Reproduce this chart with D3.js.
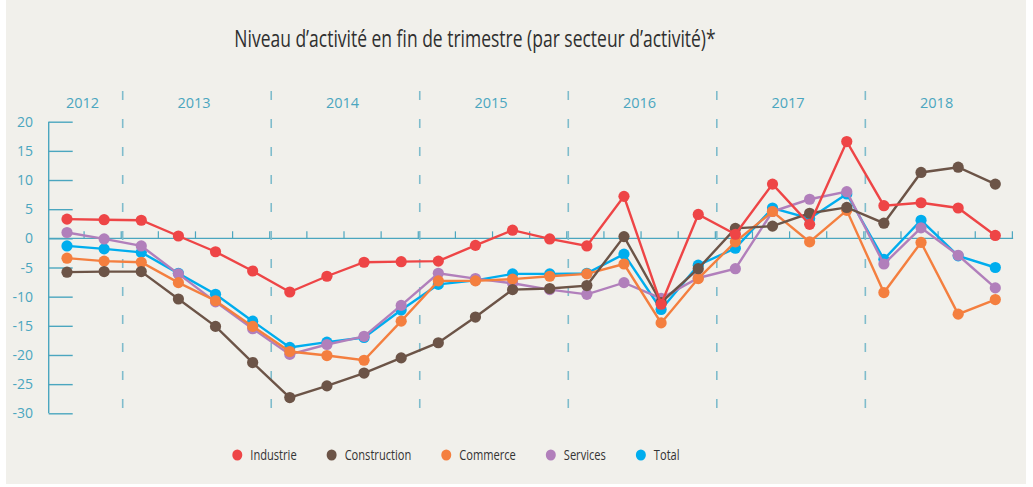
<!DOCTYPE html>
<html>
<head>
<meta charset="utf-8">
<script src="https://cdn.jsdelivr.net/npm/d3@7"></script>
<style>
  body { margin: 0; background: #fff; }
  svg { display: block; }
</style>
</head>
<body>
<div id="chart"></div>
<script>
// quarters shown (2012 T3 -> 2018 T4)
var years = ["2012", "2013", "2014", "2015", "2016", "2017", "2018"];
var periodYears = ["2012", "2012",
  "2013", "2013", "2013", "2013",
  "2014", "2014", "2014", "2014",
  "2015", "2015", "2015", "2015",
  "2016", "2016", "2016", "2016",
  "2017", "2017", "2017", "2017",
  "2018", "2018", "2018", "2018"];
var yTicks = [20, 15, 10, 5, 0, -5, -10, -15, -20, -25, -30];

var seriesNames = ["Industrie", "Construction", "Commerce", "Services", "Total"];
var industrie = [3.3, 3.2, 3.1, 0.4, -2.3, -5.6, -9.2, -6.5, -4.1, -4.0, -3.9, -1.2, 1.4, -0.1, -1.3, 7.2, -11.3, 4.1, 0.7, 9.3, 2.4, 16.6, 5.6, 6.1, 5.2, 0.5];
var construction = [-5.8, -5.7, -5.7, -10.4, -15.1, -21.3, -27.3, -25.3, -23.1, -20.5, -17.9, -13.5, -8.8, -8.6, -8.1, 0.3, -11.0, -5.2, 1.7, 2.1, 4.3, 5.3, 2.6, 11.3, 12.2, 9.3];
var commerce = [-3.4, -3.9, -4.1, -7.6, -10.7, -15.1, -19.4, -20.1, -20.9, -14.2, -7.3, -7.3, -7.0, -6.5, -6.1, -4.4, -14.5, -6.9, -0.6, 4.6, -0.6, 4.8, -9.3, -0.7, -13.0, -10.5];
var services = [1.0, -0.1, -1.3, -6.1, -10.9, -15.5, -19.9, -18.2, -16.8, -11.5, -6.0, -6.9, -7.7, -8.8, -9.6, -7.6, -10.3, -6.8, -5.2, 4.6, 6.7, 8.0, -4.4, 1.8, -2.9, -8.5];
var total = [-1.3, -1.8, -2.4, -6.0, -9.6, -14.2, -18.7, -17.8, -17.0, -12.3, -7.9, -7.2, -6.1, -6.1, -6.0, -2.7, -12.2, -4.6, -1.7, 5.2, 3.4, 7.6, -3.6, 3.1, -3.0, -5.0];
var seriesValues = [industrie, construction, commerce, services, total];
var colours = ["#ee4546", "#6c5447", "#f47f3f", "#b17fbb", "#00adee"];

function init(){
    var w = 1033, h = 487;
    var teal = "#4ba6bf";
    var narrow = 0.76; // squeeze factor, no condensed font installed
    var svg = d3.select("#chart").append("svg")
                .attr("width", w).attr("height", h);

    // panel background
    svg.append("rect").attr("x", 6).attr("y", 0).attr("width", 1020).attr("height", 484)
        .attr("fill", "#f1f0eb");

    var title = svg.append("text") //title
        .attr("x", 475).attr("y", 47)
        .attr("text-anchor", "middle")
        .style("font-family", "'Open Sans', sans-serif")
        .style("font-size", "23px")
        .style("fill", "#2f2f2f")
        .text("Niveau d\u2019activit\u00e9 en fin de trimestre (par secteur d\u2019activit\u00e9)*");
    title.attr("textLength", title.node().getComputedTextLength() * narrow)
         .attr("lengthAdjust", "spacingAndGlyphs");

    var x = d3.scalePoint()
              .domain(d3.range(periodYears.length))
              .range([67, 995.3]);
    var step = x.step();
    var y = d3.scaleLinear().domain([-30, 20]).range([413.3, 121.7]);

    // y axis: line + ticks pointing right
    var yAxis = d3.axisRight(y).tickValues(yTicks).tickSize(24).tickFormat("");
    var ga = svg.append("g").attr("transform", "translate(48.7,0)").call(yAxis);
    ga.selectAll("path, line").attr("stroke", teal).attr("stroke-width", 1.4);
    ga.select(".domain").attr("d", "M0," + y(20) + "V" + y(-30));

    svg.selectAll(".ylab")
        .data(yTicks).enter().append("text")
        .attr("x", 33).attr("y", function(d){ return y(d); })
        .attr("dy", "0.36em")
        .attr("text-anchor", "end")
        .style("font-family", "'Open Sans', sans-serif")
        .style("font-size", "14px")
        .style("fill", teal)
        .text(function(d){ return d; });

    // zero line with small quarter ticks
    svg.append("line")
        .attr("x1", 48.7).attr("x2", x(periodYears.length - 1) + step * 0.48)
        .attr("y1", y(0)).attr("y2", y(0))
        .attr("stroke", teal).attr("stroke-width", 1.4);
    svg.selectAll(".qtick")
        .data(d3.range(periodYears.length)).enter().append("line")
        .attr("x1", function(d){ return x(d) + step * 0.46; })
        .attr("x2", function(d){ return x(d) + step * 0.46; })
        .attr("y1", y(0)).attr("y2", y(0) - 7)
        .attr("stroke", teal).attr("stroke-width", 1.2);

    // year separators (dashed) and year labels
    var bounds = [];
    for (var i = 1; i < periodYears.length; i++) {
        if (periodYears[i] != periodYears[i-1]) bounds.push((x(i) + x(i-1)) / 2);
    }
    svg.selectAll(".sep")
        .data(bounds).enter().append("line")
        .attr("x1", function(d){ return d; }).attr("x2", function(d){ return d; })
        .attr("y1", 91).attr("y2", 410)
        .attr("stroke", "#7fbccc").attr("stroke-width", 1.6)
        .attr("stroke-dasharray", "9,19");

    svg.selectAll(".year")
        .data(years).enter().append("text")
        .attr("x", function(yr){
            var idx = d3.range(periodYears.length).filter(function(k){ return periodYears[k] == yr; });
            return d3.mean(idx, function(k){ return x(k); }) - 3;
        })
        .attr("y", 108)
        .attr("text-anchor", "middle")
        .style("font-family", "'Open Sans', sans-serif")
        .style("font-size", "14.5px")
        .style("fill", teal)
        .text(function(d){ return d; });

    var line = d3.line()
                 .x(function(d, i){ return x(i); })
                 .y(function(d){ return y(d); });

    // draw Total first, Industrie last (on top)
    for (var s = seriesNames.length - 1; s >= 0; s--) {
        var g = svg.append("g");
        g.append("path")
            .datum(seriesValues[s])
            .attr("d", line)
            .attr("fill", "none")
            .attr("stroke", colours[s])
            .attr("stroke-width", 2.4);
        g.selectAll("circle")
            .data(seriesValues[s]).enter().append("circle")
            .attr("cx", function(d, i){ return x(i); })
            .attr("cy", function(d){ return y(d); })
            .attr("r", 5.6)
            .attr("fill", colours[s]);
    }

    // legend
    var lx = 237.3;
    seriesNames.forEach(function(name, i){
        svg.append("ellipse")
            .attr("cx", lx).attr("cy", 455)
            .attr("rx", 5).attr("ry", 5.6)
            .attr("fill", colours[i]);
        var t = svg.append("text")
            .attr("x", lx + 13).attr("y", 455)
            .attr("dy", "0.36em")
            .style("font-family", "'Open Sans', sans-serif")
            .style("font-size", "15px")
            .style("fill", "#333")
            .text(name);
        var tw = t.node().getComputedTextLength() * 0.74;
        t.attr("textLength", tw).attr("lengthAdjust", "spacingAndGlyphs");
        lx = lx + 13 + tw + 35;
    });
}
window.onload = init;
</script>
</body>
</html>
